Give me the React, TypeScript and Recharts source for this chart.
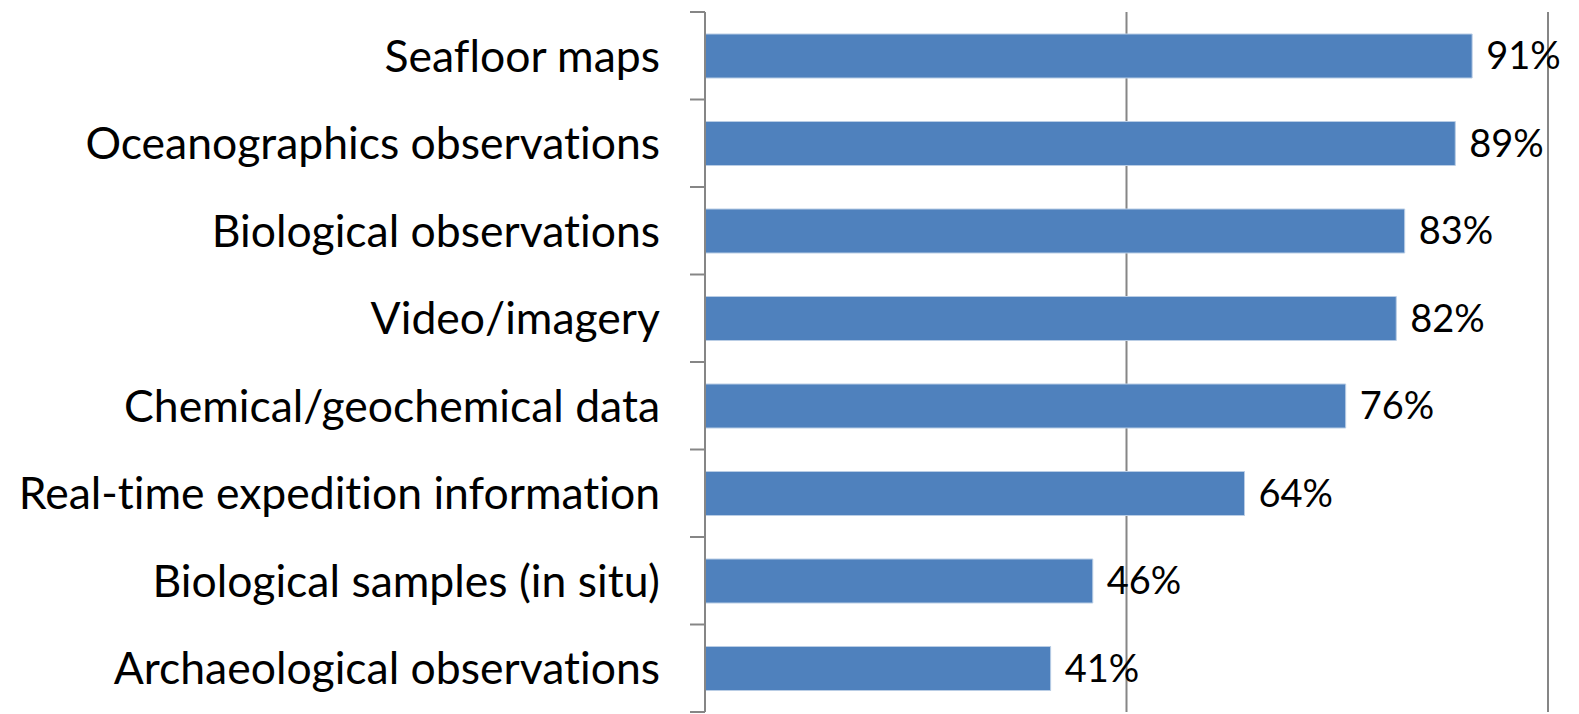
import React from "react";
import { BarChart, Bar, XAxis, YAxis, CartesianGrid, LabelList } from "recharts";

document.body.style.margin = "0";

const categories = [
  "Seafloor maps",
  "Oceanographics observations",
  "Biological observations",
  "Video/imagery",
  "Chemical/geochemical data",
  "Real-time expedition information",
  "Biological samples (in situ)",
  "Archaeological observations",
];
const shares = [91, 89, 83, 82, 76, 64, 46, 41];
const gridTicks = [0, 50, 100];

const data = categories.map((name, i) => ({ name, value: shares[i] }));

const W = 1579;
const H = 714;
const M = { top: 12, right: 31, bottom: 2, left: 0 };
const band = (H - M.top - M.bottom) / categories.length;
const FONT = "Lato, sans-serif";
const GRAY = "#868686";

function CatTick({ x, y, payload, index }) {
  const ax = x + 45;
  return (
    <g>
      <line x1={ax - 15} x2={ax} y1={y - band / 2} y2={y - band / 2} stroke={GRAY} strokeWidth={2} />
      {index === categories.length - 1 && (
        <line x1={ax - 15} x2={ax} y1={y + band / 2} y2={y + band / 2} stroke={GRAY} strokeWidth={2} />
      )}
      <text
        x={x}
        y={y}
        dy="0.36em"
        textAnchor="end"
        fontFamily={FONT}
        fontSize={44.5}
        fill="#000"
        style={{ fontVariantLigatures: "none" }}
      >
        {payload.value}
      </text>
    </g>
  );
}

export default function App() {
  return (
    <BarChart width={W} height={H} data={data} layout="vertical" margin={M}>
      <CartesianGrid horizontal={false} stroke={GRAY} strokeWidth={2} />
      <XAxis type="number" domain={[0, 100]} ticks={gridTicks} hide />
      <YAxis
        type="category"
        dataKey="name"
        width={705}
        tickSize={15}
        tickMargin={30}
        tickLine={false}
        axisLine={{ stroke: GRAY, strokeWidth: 2 }}
        tick={<CatTick />}
        interval={0}
      />
      <Bar dataKey="value" fill="#4F81BD" stroke="#B9CDE5" strokeWidth={1} barSize={44} isAnimationActive={false}>
        <LabelList
          dataKey="value"
          position="right"
          offset={14}
          formatter={(v) => `${v}%`}
          style={{ fontFamily: FONT, fontSize: 38, fill: "#000" }}
        />
      </Bar>
    </BarChart>
  );
}
